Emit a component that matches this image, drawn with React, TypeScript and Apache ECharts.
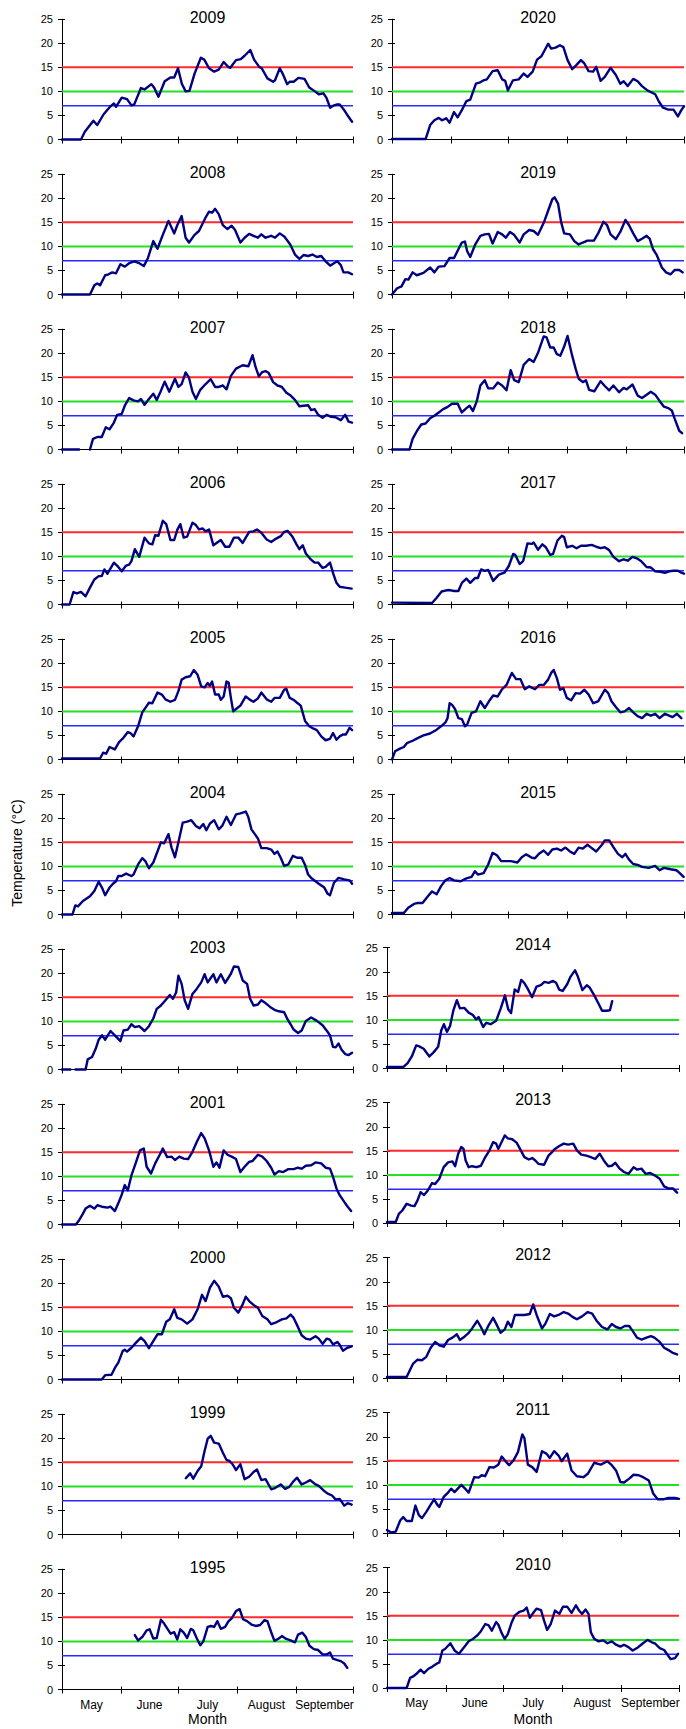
import React, { useEffect, useRef } from "react";
import * as echarts from "echarts";

// ---- data: [day since 1 May, temperature °C] ----
const t2009 = [[0,0],[10,0],[12,1.6],[16.5,3.9],[18.5,3.0],[22,5.3],[25.5,6.9],[27.3,7.5],[28.4,6.8],[31.4,8.7],[34.2,8.4],[36.5,7.1],[38,7.3],[41.5,10.7],[43.4,10.4],[47,11.5],[48.4,10.8],[50.7,8.9],[54,12.1],[57,12.9],[59,12.9],[61,14.8],[63,11.6],[65,10.0],[67,10.1],[69.7,13.7],[73,17.0],[74.8,16.6],[77.3,14.8],[80,14.1],[82.4,14.5],[85,16.1],[87.4,15.1],[88.5,14.9],[91.5,16.5],[94,16.7],[96,17.4],[99,18.6],[101,16.6],[103.7,15.1],[105,14.8],[108,12.7],[111,12.0],[112,12.3],[114.5,14.8],[116,13.7],[118.4,11.5],[119.7,12.0],[121.8,12.0],[124.3,12.8],[127.5,12.6],[130,10.8],[133,10.0],[135,9.4],[137.4,9.6],[139,8.7],[141,6.6],[143,7.1],[144.7,7.3],[146,7.3],[148,6.3],[150,5.1],[152.5,3.7]];
const t2020 = [[0,0.1],[17.6,0.1],[20,3.0],[22.2,4.0],[24.5,4.5],[26.2,4.0],[28.4,4.4],[30.2,3.5],[32.5,5.7],[34.4,4.6],[36.6,6.1],[39,8.0],[41,8.3],[44,11.6],[45.8,11.8],[48,12.3],[49.7,12.5],[52.7,14.2],[55.4,14.4],[57.7,12.5],[59.3,12.2],[60.7,10.2],[63.4,12.3],[66.4,12.5],[69,13.7],[71,13.0],[73.7,14.1],[76,16.6],[78.3,17.3],[81.8,19.9],[83.4,18.9],[85.7,19.1],[88,19.6],[89.8,19.2],[92,16.5],[94.4,14.6],[96.7,15.5],[99,16.5],[100.8,15.8],[103,14.2],[105.4,14.1],[107,15.1],[109.3,12.2],[111.5,13.0],[114.5,14.9],[117.3,13.4],[119.6,11.6],[121.4,12.1],[123.5,11.1],[126.4,12.6],[128.7,12.1],[131,11.1],[133.8,10.2],[137.9,9.4],[140,7.8],[142,6.6],[144.8,6.2],[147.5,6.2],[149.8,4.8],[151.6,6.1],[153,6.9]];
const t2008 = [[0,0],[14.7,0],[17,1.9],[18.5,2.3],[20,1.9],[22.7,4.0],[24.5,4.2],[26.4,4.6],[28.4,4.4],[30.7,6.3],[33,5.8],[35.3,6.5],[38,6.9],[40.6,6.5],[43,5.9],[45.2,7.6],[48,11.1],[50.2,9.5],[53,12.4],[56,15.3],[59,12.7],[60.6,14.4],[62.9,16.3],[65,11.8],[66.8,10.8],[69.7,12.4],[72,13.2],[75.5,16.0],[77.3,17.2],[78.9,17.0],[80.5,17.8],[82.4,16.7],[84.6,14.4],[87,13.6],[89.2,14.3],[91,13.4],[93.8,10.8],[96,11.8],[98.4,12.6],[100.7,12.2],[103,11.8],[104.8,12.5],[107,11.8],[110,12.2],[112,11.8],[114.5,12.7],[117,12.0],[120,10.4],[122.5,8.3],[124.8,7.4],[127,8.2],[129.4,8.0],[131.7,8.3],[134,7.8],[136.3,8.0],[138.6,6.9],[141,6.0],[143,6.5],[144.7,6.9],[146.6,6.1],[148,4.6],[150.5,4.6],[152.5,4.2]];
const t2019 = [[0,0],[2.7,1.3],[5,1.7],[7,3.2],[8.6,3.1],[10.8,4.6],[13,4.0],[16.5,4.5],[20,5.6],[22.2,4.6],[24.5,5.8],[27.5,5.9],[30.2,7.6],[32.5,7.6],[34.8,9.4],[36.6,10.8],[38.2,11.0],[39.4,9.0],[41,7.8],[43.5,10.3],[46.3,12.2],[48.6,12.5],[50.8,12.6],[52.7,10.6],[55.4,13.0],[57.7,12.5],[59.6,11.8],[61.8,13.0],[64,12.4],[66.9,10.8],[69,12.5],[71.9,13.4],[74.2,13.2],[76.5,12.4],[79.5,14.9],[81.8,17.4],[84,19.8],[85.2,20.2],[87,18.9],[88.6,15.1],[90.2,12.7],[93.2,12.5],[95.5,11.1],[97.8,10.4],[100,10.8],[102.4,11.2],[105.8,11.2],[108,12.7],[110.8,15.1],[112.7,14.4],[114.5,12.5],[117.3,11.5],[119.6,13.0],[122.3,15.5],[124.2,14.4],[126.4,12.7],[128.7,11.1],[131,11.6],[133.4,12.2],[135,11.6],[136.8,9.4],[138.6,8.3],[141.4,5.6],[143.6,4.6],[146,4.2],[148.2,5.1],[150.5,5.1],[152.3,4.6]];
const t2007 = [[0,0],[9,0],[12,"-"],[14.7,0],[16.3,2.2],[18.6,2.6],[20.9,2.6],[23,4.6],[25,4.2],[27.3,5.6],[29,7.2],[31.4,7.4],[33,9.1],[35.3,10.7],[37.6,10.2],[40,10.0],[41.5,10.5],[43.4,9.3],[45.7,10.5],[48,11.6],[49.8,10.3],[51.8,12.0],[54,14.1],[56.4,12.0],[59.4,14.7],[61.2,13.0],[62.9,13.6],[65,16.0],[66.7,15.0],[68.6,12.0],[70.4,10.5],[72.7,12.4],[75.5,13.6],[78.2,14.6],[80.5,13.0],[82.4,13.0],[84.6,13.3],[86.5,12.5],[88.8,15.3],[91.5,16.8],[95,17.5],[98,17.3],[100.2,19.6],[101.8,17.1],[103.5,15.2],[105.3,16.1],[107,16.3],[108.7,15.9],[111,14.0],[113.3,13.3],[115.6,13.0],[118,11.8],[120.2,11.2],[122.5,10.3],[124.8,9.0],[127,9.1],[129.4,9.2],[131,8.2],[132.8,8.4],[134.7,7.2],[137,6.6],[139.2,7.2],[141.5,6.8],[143.8,6.7],[146.6,6.1],[148.9,7.2],[150.7,5.8],[152.5,5.6]];
const t2018 = [[0,0],[9.2,0],[10.8,2.2],[13,3.8],[15.3,5.2],[17.6,5.4],[20,6.5],[22.2,7.0],[24.5,7.7],[26.8,8.4],[29,8.8],[31.4,9.5],[34.4,9.5],[36.6,7.7],[39,8.6],[40.6,9.1],[42.4,8.0],[44.4,10.0],[46.3,13.3],[48.6,14.4],[50.4,12.7],[53,12.7],[55.4,13.9],[57.7,13.3],[60,12.3],[62.2,16.5],[64,14.4],[66.4,14.0],[69,17.6],[71.9,18.8],[74.2,18.2],[76.5,20.1],[79.5,23.5],[81,23.3],[82.9,21.2],[84.7,21.2],[86.4,19.8],[88.2,19.5],[90.2,21.4],[92,23.6],[94.4,19.5],[96.2,16.8],[97.8,14.7],[100,14.0],[101.6,14.4],[103.3,12.4],[106,12.1],[109.3,14.2],[111.5,13.2],[113.8,12.3],[116,13.3],[119,11.9],[121.4,12.8],[123,12.5],[126,13.5],[128.7,11.2],[131,10.7],[133.8,11.5],[135.6,12.0],[137.9,11.4],[140.2,10.1],[142.5,8.9],[144.8,8.6],[146.6,8.1],[148.2,6.3],[150.5,3.9],[152,3.4]];
const t2006 = [[0,0],[4,0],[6,2.6],[7.8,2.3],[10,2.6],[12.4,1.7],[14.7,3.5],[17,5.2],[19.3,5.9],[20.9,5.9],[22.3,7.3],[23.9,6.4],[27.3,8.7],[29.6,7.8],[31.4,6.9],[33.7,8.1],[35.3,8.3],[36.5,9.0],[38.3,11.5],[40.6,9.9],[43.4,13.9],[45.7,12.7],[47.5,12.5],[49,14.4],[50.7,14.3],[53,17.4],[54.8,16.7],[57,13.4],[59,13.4],[60.6,15.5],[62.2,16.7],[64,13.9],[65.8,14.1],[68.6,17.0],[70.4,16.5],[72,15.6],[73.9,15.8],[75.5,15.2],[77.3,15.6],[79.6,12.3],[82,13.0],[83.5,13.4],[85.8,12.0],[88,12.0],[90.4,13.9],[92.7,13.9],[95,12.8],[98.4,15.1],[100.7,15.2],[102.5,15.6],[104.8,14.9],[107.6,13.5],[110,13.0],[112.6,13.7],[115,14.2],[116.8,15.1],[118.6,15.3],[121,14.2],[123.3,12.5],[124.8,11.5],[126.6,12.3],[128.2,10.6],[130.5,9.5],[132.8,8.7],[134.7,8.7],[137,7.6],[138.6,7.8],[140.9,8.7],[142.7,6.3],[144.3,4.5],[146,3.7],[148.9,3.5],[152.3,3.3]];
const t2017 = [[0,0.4],[21,0.3],[23.4,1.4],[26,2.7],[28,2.9],[30.2,3.0],[32.5,2.8],[34.8,2.8],[36.6,4.5],[39,5.4],[41,4.5],[43.5,5.5],[45,5.5],[46.7,7.3],[48.6,7.0],[50.4,7.2],[53,4.9],[56,6.2],[58.9,6.6],[61.2,8.0],[63.5,10.5],[64.6,10.3],[66.9,8.4],[68.7,9.0],[71,12.7],[73.3,12.6],[74.2,12.9],[76.5,11.4],[78.8,12.5],[80.6,11.9],[82.9,10.3],[84.4,10.5],[86.7,13.3],[89,14.3],[90.2,14.0],[91.6,11.9],[94.4,12.2],[96.7,11.7],[99,12.2],[101.7,12.2],[104.7,12.4],[107,12.0],[109.3,11.7],[111.5,11.9],[113.8,11.3],[116,9.9],[119,9.0],[121.4,9.4],[123.5,9.1],[126,9.9],[128.3,9.6],[130.6,9.0],[133.4,7.8],[135.6,7.7],[137.9,6.9],[140.6,6.8],[143,6.6],[145.2,6.9],[147.5,7.0],[149.8,7.0],[151.6,6.6],[153,6.4]];
const t2005 = [[0,0.2],[20,0.2],[21.6,1.4],[23.2,1.2],[25,2.6],[27.8,2.1],[30,3.6],[32.3,4.5],[34.6,5.7],[36,5.5],[37.6,4.8],[40,6.9],[42.2,9.8],[44.5,11.1],[45.7,11.8],[47.5,11.7],[50.2,13.9],[52.5,13.5],[54.4,12.5],[57,12.0],[59.4,12.4],[61.2,14.2],[62.9,16.6],[65,17.1],[67.4,17.3],[69.3,18.6],[71.3,17.6],[73.2,15.2],[75,15.0],[76.6,15.9],[77.7,15.3],[78.9,16.2],[80.5,13.5],[82.4,13.5],[83.5,12.4],[85,13.1],[86.5,16.2],[87.6,16.0],[88.8,12.8],[90,10.0],[91.5,10.5],[93.8,11.2],[96.6,13.1],[98.9,12.4],[100.7,12.0],[103,12.7],[104.8,13.9],[107.6,12.5],[110,12.0],[111.7,12.8],[114.5,12.8],[116.8,14.5],[117.9,14.7],[119.7,12.8],[121.8,12.4],[123.6,11.8],[125.5,11.2],[127.8,8.0],[130,6.9],[132.3,6.4],[134,6.1],[136.3,4.8],[138.6,4.0],[140.9,4.3],[142.5,5.5],[144.3,4.1],[146,4.8],[147.7,5.2],[149.3,5.2],[151.2,6.6],[152.5,6.1]];
const t2016 = [[0,0],[1.6,1.7],[3.9,2.2],[6.2,2.6],[7.8,3.4],[10.8,3.9],[13.7,4.5],[16.5,5.0],[19.9,5.4],[23.4,6.2],[25.7,6.9],[28,7.7],[29.1,8.6],[30.2,11.7],[31.4,11.4],[33,10.5],[34.8,8.6],[36.6,8.4],[38.2,6.9],[39.4,7.3],[41.7,9.7],[44,10.0],[46.3,12.1],[48.6,10.7],[50.8,12.1],[53,13.3],[55.4,13.1],[57.7,14.6],[60,15.5],[62.8,18.0],[65,16.7],[67.3,16.7],[69.6,14.6],[71.9,15.2],[74.9,14.6],[77.2,15.5],[79.5,15.5],[81.8,16.6],[83.4,18.0],[84.7,18.6],[86.4,16.9],[88,14.5],[89.8,14.8],[91.6,12.8],[93.9,12.3],[96.2,13.8],[98.5,13.7],[100.8,14.5],[103,13.5],[105.4,11.7],[108,12.1],[111.5,14.5],[113.3,13.8],[115,12.1],[117.3,10.9],[119.6,9.8],[121.9,10.0],[124.2,10.7],[126.4,9.8],[128.7,9.0],[131,8.6],[133.4,9.5],[135.6,9.1],[137.9,9.5],[140.2,8.6],[143,9.5],[145.2,9.1],[147,8.8],[149.3,9.5],[151.6,8.6]];
const t2004 = [[0,0],[5.5,0],[7,1.9],[8.4,1.7],[11,2.8],[14.7,3.8],[17,4.9],[19.3,6.8],[21,5.6],[22.7,4.0],[25,5.6],[26.8,6.4],[28.4,6.9],[29.6,8.0],[31.4,8.0],[33.7,8.5],[36.5,8.0],[37.6,8.3],[40,10.4],[42.2,11.7],[43.8,11.1],[45.7,9.6],[48,10.8],[50.2,13.1],[52,15.0],[53.7,14.8],[56,16.7],[57.6,13.9],[59.4,11.9],[61.2,15.0],[63.5,19.1],[65.8,19.3],[68,19.6],[70.4,18.4],[72.3,17.9],[74.3,18.8],[75.9,17.5],[77.8,18.9],[80,19.6],[82.4,17.7],[84.2,18.4],[86.5,20.3],[88.8,18.6],[91.5,20.8],[93.8,21.0],[96.6,21.4],[97.9,20.3],[99.6,17.7],[101.2,16.8],[103,15.8],[104.8,13.8],[107.6,13.8],[110,13.5],[111.7,12.6],[113.3,13.1],[115,11.8],[116.8,10.1],[119,10.4],[121.4,12.2],[123.6,11.8],[126,11.8],[127.8,10.3],[129.4,8.3],[131,7.6],[133.3,6.9],[135,6.4],[137.9,5.6],[139.7,4.3],[140.9,4.0],[143,6.6],[145.4,7.6],[148.4,7.3],[151.2,7.1],[152.5,6.4]];
const t2015 = [[0,0.3],[6.2,0.3],[8.5,1.4],[11.5,2.2],[13.7,2.4],[16,2.4],[18.8,3.8],[21,4.8],[23.4,4.2],[25.7,5.9],[28,7.1],[30.2,7.6],[32.5,7.1],[36,6.9],[39,7.5],[41.7,7.8],[43.5,9.0],[45,8.3],[48,8.6],[50.4,10.4],[52.7,12.8],[55,12.3],[57.2,11.1],[60,11.1],[62.3,11.1],[65.7,10.8],[68,11.9],[70.3,12.5],[73.3,11.8],[74.9,11.7],[77.2,12.7],[79.5,13.3],[81.8,12.4],[84,13.5],[86.4,13.7],[88.6,13.3],[90.9,13.9],[93.2,13.1],[95.5,12.6],[97.8,13.9],[100,13.7],[102.4,14.5],[104,14.0],[107,13.1],[110,14.5],[111.5,15.4],[113.8,15.4],[116,14.0],[118.4,12.6],[120.7,11.9],[122.3,12.6],[124.2,11.4],[126.4,10.5],[128.7,10.3],[131,9.9],[134.5,9.7],[137.9,10.1],[140.2,9.2],[142.5,9.7],[146,9.4],[149,9.2],[150.5,8.7],[152.8,7.8]];
const t2003 = [[0,0],[4.4,0],[5.5,"-"],[7.1,0],[12.4,0],[13.5,2.1],[15.8,2.6],[17.7,4.3],[19.3,6.2],[21,7.1],[22.7,6.2],[25.5,8.0],[27.8,7.1],[30.7,5.9],[32.3,8.1],[34.6,8.3],[36.5,9.4],[38.3,8.8],[40.6,9.0],[43.4,8.0],[45.7,9.0],[48,10.6],[49.8,12.6],[52,13.3],[54.4,14.4],[56.7,15.5],[58.3,14.7],[60,16.0],[61.2,19.5],[62.9,17.8],[64.5,14.4],[66.3,12.6],[68.6,15.7],[70.9,16.8],[73.2,18.1],[75,19.8],[76.6,18.1],[79.6,19.8],[81.2,18.1],[83.5,19.8],[85.8,18.0],[88.8,19.9],[90.4,21.4],[92.7,21.3],[95,18.5],[97.3,17.8],[98.9,14.7],[100.7,13.3],[103,13.5],[104.8,14.4],[107,13.8],[109.4,13.0],[111.7,12.4],[114,12.1],[116.8,11.9],[118.6,10.4],[120.2,9.4],[121.8,8.3],[124.1,7.6],[126,8.1],[128.2,10.1],[131,10.8],[134,10.1],[137,9.2],[139.7,7.8],[140.9,7.1],[142.5,4.7],[143.9,4.6],[145.4,5.4],[147,4.1],[148.9,3.2],[150.7,3.0],[152.5,3.5]];
const t2014 = [[0,0.2],[8.5,0.2],[10.8,1.0],[13,2.4],[15.3,4.7],[16.9,4.5],[19.2,4.0],[22.2,2.4],[24.5,3.3],[26.8,4.4],[28.4,7.8],[29.8,9.1],[31.4,7.5],[33,8.7],[34.8,12.0],[36.6,14.1],[38.2,12.4],[40.5,12.5],[42.8,11.5],[45,11.0],[46.7,10.1],[48,10.6],[50.4,8.5],[52,9.4],[54.3,9.1],[57.2,9.8],[59.6,12.4],[61.8,15.1],[63.5,12.2],[65,11.4],[66.9,16.3],[68.7,15.8],[70.3,18.3],[71.9,17.7],[73.7,16.5],[76,14.7],[78.3,16.9],[80.6,17.2],[82.5,17.9],[84.7,17.7],[87,18.1],[88.6,17.7],[90.2,16.3],[92,16.0],[94.4,17.4],[96.2,19.0],[98.5,20.3],[100,19.0],[102.4,16.2],[104.7,17.2],[106.2,16.7],[108.6,15.1],[110.8,13.4],[112.7,11.9],[115,11.9],[116.8,12.0],[118,13.9]];
const t2001 = [[0,0],[7.3,0],[9,0.9],[10.8,2.1],[12.4,3.3],[14.7,3.9],[17,3.3],[18.6,4.0],[21,3.7],[23.9,3.5],[25.5,3.7],[27.8,2.8],[29.6,4.4],[31.4,6.2],[33,8.2],[34.6,7.1],[36.5,10.2],[38.8,12.8],[41,15.4],[43,15.8],[44.5,12.0],[46.8,10.6],[49,12.7],[51.4,14.5],[53,15.8],[55.3,14.0],[57.6,14.1],[59.4,13.4],[61.7,14.1],[64,13.7],[66.3,13.6],[68.6,15.1],[70.9,17.2],[73.2,19.0],[75,17.9],[77.3,15.4],[79.6,12.0],[81.2,12.9],[82.8,11.8],[85,15.4],[87,14.5],[89.2,14.1],[91.5,13.6],[93.8,10.9],[96,12.0],[98.4,13.0],[100.2,13.2],[103,14.5],[105.3,14.1],[107.6,13.2],[110,11.8],[111.7,10.4],[114,11.1],[116.3,10.9],[119,11.5],[121.8,11.5],[124,11.8],[126,11.6],[128.2,12.2],[131,12.3],[133.3,12.9],[136.3,12.7],[138.6,11.8],[140.9,11.6],[142.5,9.9],[144.3,7.5],[146,6.1],[148.4,4.7],[150.2,3.7],[152,2.8]];
const t2013 = [[0,0.2],[4.6,0.2],[6.2,1.9],[8,2.6],[10.3,4.0],[12.6,3.6],[14.4,3.5],[16,4.7],[17.6,6.4],[19.4,5.8],[21.3,6.7],[23.6,8.3],[25.2,8.1],[27.4,9.2],[29.7,11.6],[32,12.6],[34.3,12.8],[35.7,11.8],[37.3,14.4],[38.9,15.8],[40.1,15.4],[41.2,13.0],[42.8,11.6],[44.6,11.8],[46.9,11.6],[49.2,11.9],[51.5,13.7],[53.7,15.1],[55.6,16.8],[57.2,16.5],[58.3,15.4],[60,16.8],[61.7,18.2],[63.3,17.6],[65.6,17.4],[67.9,16.7],[69.7,15.4],[72,13.7],[74.3,13.2],[76.1,13.5],[77.7,13.0],[79.3,12.3],[82.3,12.1],[84.6,14.0],[86.2,14.6],[88,15.4],[90.3,16.0],[92.6,16.5],[94.9,16.3],[97.6,16.5],[99.5,15.1],[101.8,14.2],[104.5,14.0],[106.8,13.7],[109.1,13.3],[111.4,14.4],[113.6,13.0],[115.9,11.8],[117.8,11.9],[119.6,12.5],[121.9,11.3],[124.2,10.6],[126.5,10.2],[129.2,11.6],[131,11.1],[133.3,11.3],[135.6,10.2],[137.9,10.4],[140.2,9.9],[142.9,9.2],[145.2,7.6],[147.5,7.2],[149.8,7.2],[152,6.3]];
const t2000 = [[0,0],[20.9,0],[22.7,0.9],[26,1.0],[27.8,2.4],[29.6,3.5],[31.9,5.9],[33,6.2],[34.2,5.8],[36.5,6.6],[38.8,7.6],[41.5,8.7],[43.4,8.0],[45.7,6.5],[48,8.0],[50.2,9.4],[52.5,9.4],[54.8,12.0],[56.7,12.5],[59,14.6],[60.6,12.8],[62.9,12.5],[65.8,11.6],[68.6,12.5],[71.3,14.6],[73.6,17.6],[75.5,16.3],[77.8,19.1],[80,20.5],[82.4,19.3],[84.6,17.2],[87,17.4],[88.8,16.9],[90.4,14.9],[92.7,13.9],[95,15.6],[96.6,17.2],[98.4,16.3],[100.7,15.5],[103,14.9],[105.3,13.2],[108,12.5],[110,11.5],[112.2,11.8],[115.6,12.5],[118,12.7],[120.2,13.5],[121.8,12.8],[123.6,11.3],[126,9.2],[128.2,8.5],[130.5,8.3],[133.3,9.0],[135,8.5],[137,7.4],[139.2,8.5],[140.8,8.3],[142.5,7.3],[144.8,7.8],[146,7.2],[147.7,6.0],[150,6.6],[152.3,6.9]];
const t2012 = [[0,0.2],[10.3,0.2],[12.1,1.7],[13.7,3.0],[16,3.8],[18.3,3.7],[20.6,4.4],[22.9,6.3],[25.2,7.5],[27.4,6.8],[29.7,6.5],[32,7.9],[34.3,8.4],[36.6,9.1],[38.2,7.9],[40,8.4],[42.8,9.4],[44.6,10.3],[47.3,11.9],[49.2,10.6],[51,9.1],[53.3,11.0],[55.6,12.5],[57.2,11.3],[59.5,9.4],[61.7,10.1],[63.3,11.7],[65.2,10.6],[67,13.1],[69.3,13.1],[72,13.1],[74.8,13.3],[76.6,15.3],[78.4,13.1],[81.2,10.3],[83,11.3],[85.3,13.3],[87.6,12.8],[89.9,13.1],[92.6,13.7],[94.9,13.4],[97.2,12.7],[99.5,12.2],[102.2,12.8],[105.2,13.7],[107.5,13.4],[109.8,11.9],[112.7,10.6],[115.5,10.1],[117.8,11.2],[120,10.6],[122.3,10.3],[124.6,10.8],[126.9,10.8],[128.7,9.8],[131,8.4],[133.3,8.0],[136,8.4],[138.3,8.7],[140.1,8.4],[142.9,7.5],[145.2,6.3],[147.5,5.8],[149.8,5.2],[152,4.9]];
const t1999 = [[65.1,11.7],[67.4,12.7],[69,11.6],[71.3,13.2],[73.2,14.2],[75,17.4],[76.6,19.9],[78.2,20.5],[80,19.1],[82.4,18.9],[84.6,17.0],[86.5,15.5],[88,15.3],[89.7,14.6],[91.5,13.4],[93.8,14.6],[96,11.5],[98.4,12.0],[100.7,13.0],[102.5,13.5],[104.8,11.3],[107,11.5],[110,9.4],[112.2,9.7],[115,10.4],[117.3,9.5],[119.5,9.9],[121.8,11.1],[123.6,11.8],[126,10.4],[128.2,10.8],[130.5,11.3],[133.3,10.4],[135,10.1],[137.4,9.2],[139.7,8.5],[142,8.1],[143.8,7.3],[146,7.4],[148.4,6.0],[150.2,6.5],[152.3,6.2]];
const t2011 = [[0,0.6],[2.3,0.1],[4.6,0.3],[6.9,2.6],[8.5,3.3],[10.3,2.5],[13,2.5],[14.9,5.7],[16.7,3.7],[18.3,3.1],[20.6,4.4],[22.9,5.9],[24.7,7.0],[26.3,5.9],[27.4,5.4],[29.7,7.5],[32,8.4],[33.6,9.2],[35.4,8.5],[38.9,10.0],[41.2,9.1],[42.8,8.4],[45.7,11.6],[48,11.5],[49.6,12.0],[51.4,11.8],[53.7,13.7],[56,13.6],[58.3,14.2],[60.1,15.9],[61.7,15.1],[64,14.1],[66.3,15.1],[68.6,16.8],[70.9,20.5],[72,19.7],[73.8,14.2],[76.1,13.7],[78.4,12.7],[81.2,17.0],[83.5,16.5],[85.3,15.6],[87.6,17.0],[89.9,16.1],[91.5,14.9],[94.4,16.5],[96.7,13.0],[99.5,11.8],[102.9,11.6],[105.2,12.3],[108.6,14.6],[112,14.2],[115.5,14.9],[117.8,14.1],[120,13.0],[122.3,10.6],[124.2,10.5],[126.9,11.3],[129.2,12.1],[131.9,12.0],[134.2,11.6],[137.2,10.9],[139.5,8.2],[141.8,7.0],[144.7,7.0],[147.5,7.3],[150.9,7.3],[153,7.1]];
const t1995 = [[38.3,11.3],[40,10.2],[42.2,10.9],[44.5,12.3],[46.1,12.5],[48,10.6],[49.8,10.7],[52,14.5],[53.7,13.7],[55.3,12.7],[57.1,11.6],[59,11.9],[60.6,10.4],[62.2,12.5],[64,11.8],[65.8,10.7],[67.7,12.6],[69,12.3],[70.9,10.6],[72.7,9.2],[74.3,10.0],[76.6,13.0],[78.2,13.2],[80,13.0],[81.7,14.2],[83.5,12.6],[85.8,13.0],[87.4,14.1],[89.2,14.8],[91.5,16.3],[93.4,16.7],[95.2,14.6],[97.3,14.2],[99.6,13.5],[101.9,13.2],[104.2,13.4],[106.4,14.4],[108,14.2],[109.9,12.0],[111.7,10.1],[114,10.6],[115.6,11.1],[117.9,10.5],[120.2,10.2],[122.5,9.8],[124.1,11.4],[126.4,11.8],[128.2,10.9],[130.1,9.1],[132.4,8.4],[134.7,8.2],[137,7.3],[139.3,7.3],[140.9,7.7],[142.5,6.4],[144.8,6.1],[146.6,5.9],[148.4,5.4],[150,4.5]];
const t2010 = [[0,0],[10.3,0],[12.1,2.1],[13.7,2.4],[15.3,2.9],[17.6,3.8],[19.4,3.1],[21.7,4.0],[23.6,4.4],[25.8,5.0],[27.4,5.3],[29,7.8],[30.4,8.1],[33.2,9.3],[35.4,7.8],[37.7,7.1],[40.5,8.5],[42.8,9.7],[45,10.2],[47.3,10.9],[49.2,11.8],[51.5,13.3],[53.3,13.0],[54.9,11.9],[57.2,13.7],[58.3,13.2],[60.1,11.4],[61.7,10.2],[63.3,11.2],[65.2,13.5],[67,15.1],[69.3,15.8],[71.6,16.1],[73.2,16.7],[74.8,14.6],[76.6,15.6],[78.4,16.5],[80.7,16.2],[82.3,14.0],[83.9,12.1],[85.8,13.3],[88,16.1],[90.3,15.4],[92.2,16.9],[94.4,16.9],[96.7,15.6],[99,17.2],[100.6,16.1],[102.2,15.4],[104,16.3],[105.6,15.4],[106.8,11.6],[108.6,10.2],[110.9,9.7],[113.2,9.9],[115.5,9.3],[117.8,9.7],[120,9.0],[122.3,8.6],[124.2,9.0],[126.5,8.5],[128.7,7.8],[131,8.3],[133.8,9.2],[136.5,10.0],[138.8,9.5],[140.6,9.2],[142.9,8.3],[145.2,7.9],[147,6.9],[148.6,6.0],[150.9,6.2],[152.5,7.1]];

const leftYears = ["2009", "2008", "2007", "2006", "2005", "2004", "2003", "2001", "2000", "1999", "1995"];
const rightYears = ["2020", "2019", "2018", "2017", "2016", "2015", "2014", "2013", "2012", "2011", "2010"];
const seriesByYear: Record<string, any[]> = {
  "2009": t2009, "2020": t2020, "2008": t2008, "2019": t2019, "2007": t2007, "2018": t2018,
  "2006": t2006, "2017": t2017, "2005": t2005, "2016": t2016, "2004": t2004, "2015": t2015,
  "2003": t2003, "2014": t2014, "2001": t2001, "2013": t2013, "2000": t2000, "2012": t2012,
  "1999": t1999, "2011": t2011, "1995": t1995, "2010": t2010,
};
const thresholds = [15, 10, 7];
const thresholdColors = ["#ff2a2a", "#22e022", "#2a2aff"];
const thresholdWidths = [2, 2, 1.6];
const monthNames = ["May", "June", "July", "August", "September"];
const monthStarts = [0, 31, 61, 92, 123, 153];
const monthMids = [15.5, 46, 76.5, 107.5, 138];

const W = 686;
const H = 1729;
const FONT = "'Liberation Sans', Arial, Helvetica, sans-serif";

export default function App() {
  const ref = useRef<HTMLDivElement>(null);
  useEffect(() => {
    const chart = echarts.init(ref.current!, null, { renderer: "svg", width: W, height: H });
    const grid: any[] = [];
    const xAxis: any[] = [];
    const yAxis: any[] = [];
    const series: any[] = [];
    const graphic: any[] = [];
    const panels: any[] = [];
    for (let r = 0; r < 11; r++) {
      panels.push({ year: leftYears[r], left: 62, width: 291, zero: 139.5 + 155 * r, tdy: 0 });
      const late = r >= 6;
      panels.push({ year: rightYears[r], left: late ? 387 : 392, width: 292, zero: 139.5 + 155 * r - (late ? 1.5 : 0), tdy: late ? -3 : 0 });
    }
    const height = 120.3;
    panels.forEach((p, i) => {
      const top = p.zero - height;
      const row = Math.floor(i / 2);
      grid.push({ left: p.left, top, width: p.width, height });
      const bottomRow = row === 10;
      xAxis.push({
        gridIndex: i, type: "value", min: 0, max: 153, position: "bottom",
        axisLine: { show: true, onZero: false, lineStyle: { color: "#000", width: 1 } },
        axisTick: { show: true, customValues: monthStarts, length: 4, lineStyle: { color: "#000", width: 1 } },
        axisLabel: bottomRow
          ? { show: true, customValues: monthMids, formatter: (v: number) => monthNames[monthMids.indexOf(v)] || "", color: "#000", fontSize: 12, fontFamily: FONT, margin: 9 }
          : { show: false },
        splitLine: { show: false },
      });
      xAxis.push({
        gridIndex: i, type: "value", min: 0, max: 153, position: "bottom",
        axisLine: { show: false, onZero: false },
        axisTick: { show: true, inside: true, customValues: monthStarts, length: 3, lineStyle: { color: "#000", width: 1 } },
        axisLabel: { show: false }, splitLine: { show: false },
      });
      yAxis.push({
        gridIndex: i, type: "value", min: 0, max: 25, interval: 5, position: "left",
        axisLine: { show: true, onZero: false, lineStyle: { color: "#000", width: 1 } },
        axisTick: { show: true, length: 4, lineStyle: { color: "#000", width: 1 } },
        axisLabel: { show: true, color: "#000", fontSize: 11, fontFamily: FONT, margin: 9 },
        splitLine: { show: false },
      });
      yAxis.push({
        gridIndex: i, type: "value", min: 0, max: 25, interval: 5, position: "left",
        axisLine: { show: false, onZero: false },
        axisTick: { show: true, inside: true, length: 3, lineStyle: { color: "#000", width: 1 } },
        axisLabel: { show: false }, splitLine: { show: false },
      });
      thresholds.forEach((th, k) => {
        series.push({
          type: "line", xAxisIndex: 2 * i, yAxisIndex: 2 * i, silent: true, symbol: "none",
          data: [[0, th], [153, th]], z: 1,
          lineStyle: { color: thresholdColors[k], width: thresholdWidths[k] },
        });
      });
      series.push({
        type: "line", name: p.year, xAxisIndex: 2 * i, yAxisIndex: 2 * i, symbol: "none", showSymbol: false,
        data: seriesByYear[p.year], connectNulls: false, clip: false, z: 3,
        lineStyle: { color: "#000080", width: 2.4, join: "round", cap: "round" },
      });
      graphic.push({
        type: "text", x: p.left + p.width / 2, y: 17 + 155 * row + p.tdy,
        style: { text: p.year, fill: "#000", fontSize: 16, fontFamily: FONT, textAlign: "center", textVerticalAlign: "middle" },
      });
      if (bottomRow) {
        graphic.push({
          type: "text", x: p.left + p.width / 2, y: 1719,
          style: { text: "Month", fill: "#000", fontSize: 14, fontFamily: FONT, textAlign: "center", textVerticalAlign: "middle" },
        });
      }
    });
    graphic.push({
      type: "text", x: 17, y: 853, rotation: Math.PI / 2,
      style: { text: "Temperature (°C)", fill: "#000", fontSize: 14, fontFamily: FONT, textAlign: "center", textVerticalAlign: "middle" },
    });
    chart.setOption({
      animation: false,
      backgroundColor: "#fff",
      textStyle: { fontFamily: FONT },
      grid, xAxis, yAxis, series, graphic,
    });
    return () => chart.dispose();
  }, []);
  return <div ref={ref} style={{ position: "absolute", left: 0, top: 0, width: W, height: H, background: "#fff" }} />;
}
